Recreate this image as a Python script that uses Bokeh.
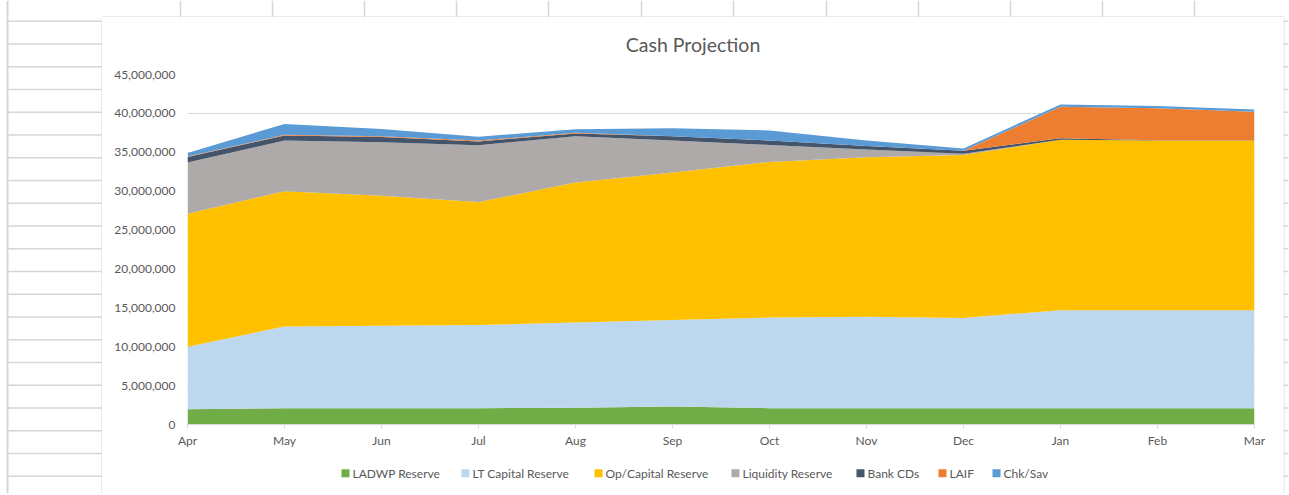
from bokeh.plotting import figure
from bokeh.models import (Range1d, FixedTicker, NumeralTickFormatter, ColumnDataSource)
from bokeh.layouts import row, column
from bokeh.embed import file_html
from bokeh.resources import INLINE
from bokeh.core.properties import value

# ---------------- data ----------------
months = ["Apr", "May", "Jun", "Jul", "Aug", "Sep", "Oct", "Nov", "Dec", "Jan", "Feb", "Mar"]
ladwp_reserve      = [1_950_000, 2_100_000, 2_100_000, 2_100_000, 2_150_000, 2_300_000,
                      2_100_000, 2_100_000, 2_100_000, 2_100_000, 2_100_000, 2_100_000]
lt_capital_reserve = [8_050_000, 10_500_000, 10_600_000, 10_700_000, 10_950_000, 11_150_000,
                      11_650_000, 11_750_000, 11_600_000, 12_600_000, 12_600_000, 12_600_000]
op_capital_reserve = [17_100_000, 17_400_000, 16_700_000, 15_800_000, 18_000_000, 18_950_000,
                      20_000_000, 20_500_000, 20_950_000, 21_900_000, 21_800_000, 21_800_000]
liquidity_reserve  = [6_600_000, 6_500_000, 6_900_000, 7_300_000, 5_950_000, 4_100_000,
                      2_200_000, 1_000_000, 150_000, 0, 0, 0]
bank_cds           = [700_000, 650_000, 650_000, 500_000, 350_000, 550_000,
                      550_000, 450_000, 400_000, 200_000, 50_000, 50_000]
laif               = [50_000, 100_000, 100_000, 100_000, 100_000, 0,
                      0, 0, 0, 4_050_000, 4_100_000, 3_650_000]
chk_sav            = [450_000, 1_400_000, 950_000, 500_000, 450_000, 1_050_000,
                      1_300_000, 700_000, 300_000, 300_000, 300_000, 300_000]

series_labels = ["LADWP Reserve", "LT Capital Reserve", "Op/Capital Reserve",
                 "Liquidity Reserve", "Bank CDs", "LAIF", "Chk/Sav"]
series_keys = ["ladwp", "ltcap", "opcap", "liq", "cds", "laif", "chk"]
series_values = [ladwp_reserve, lt_capital_reserve, op_capital_reserve,
                 liquidity_reserve, bank_cds, laif, chk_sav]
colors = ["#70ad47", "#bdd7ee", "#ffc000", "#aeaaaa", "#44546a", "#ed7d31", "#5b9bd5"]
y_ticks = list(range(0, 45_000_001, 5_000_000))
chart_title = "Cash Projection"

FONT = "Lato"
TXT = "#595959"
GRID = "#d9d9d9"
SHEET = "#d6d6d6"

# page geometry (pixels)
TOP_H = 17           # spreadsheet strip above the chart box
LEFT_W = 102         # spreadsheet strip left of the chart box
RIGHT_W = 5          # spreadsheet strip right of the chart box
BOX_W = 1181         # chart box width
BORDER_L, BORDER_R = 85, 29
TITLE_H, PLOT_H, LEG_H = 47, 390, 39
FRAME_L = LEFT_W + BORDER_L
FRAME_R = LEFT_W + BOX_W - BORDER_R
BODY_H = TITLE_H + PLOT_H + LEG_H


def plain(fig):
    fig.outline_line_color = None
    fig.background_fill_color = "white"
    fig.border_fill_color = "white"
    return fig


# ---------------- title strip ----------------
title_fig = plain(figure(width=BOX_W, height=TITLE_H, output_backend="svg", toolbar_location=None,
                         x_range=Range1d(FRAME_L, FRAME_R), y_range=Range1d(TOP_H + TITLE_H, TOP_H),
                         x_axis_type=None, y_axis_type=None, min_border_left=BORDER_L,
                         min_border_right=BORDER_R, min_border_top=0, min_border_bottom=0))
title_fig.text(x=[LEFT_W + BOX_W / 2], y=[44], text=[chart_title], text_align="center",
               text_baseline="middle", text_font=value(FONT), text_font_size="19.5px",
               text_color=TXT)

# ---------------- chart ----------------
p = plain(figure(width=BOX_W, height=PLOT_H, output_backend="svg", toolbar_location=None,
                 x_range=Range1d(0, len(months) - 1), y_range=Range1d(0, 45_000_000),
                 min_border_left=BORDER_L, min_border_right=BORDER_R,
                 min_border_top=10, min_border_bottom=30))

data = {"x": list(range(len(months)))}
for k, v in zip(series_keys, series_values):
    data[k] = v
src = ColumnDataSource(data)
p.varea_stack(stackers=series_keys, x="x", color=colors, source=src)

p.xaxis.ticker = FixedTicker(ticks=list(range(len(months))))
p.xaxis.major_label_overrides = {i: m for i, m in enumerate(months)}
p.xaxis.axis_line_color = GRID
p.xaxis.major_tick_line_color = GRID
p.xaxis.major_tick_out = 4
p.xaxis.major_tick_in = 0
p.xaxis.minor_tick_line_color = None
p.xaxis.major_label_standoff = 4
p.xaxis.major_label_text_font = FONT
p.xaxis.major_label_text_font_size = "12px"
p.xaxis.major_label_text_color = TXT

p.yaxis.ticker = FixedTicker(ticks=y_ticks)
p.yaxis.formatter = NumeralTickFormatter(format="0,0")
p.yaxis.axis_line_color = None
p.yaxis.major_tick_line_color = None
p.yaxis.major_tick_out = 0
p.yaxis.major_tick_in = 0
p.yaxis.minor_tick_line_color = None
p.yaxis.major_label_standoff = 12
p.yaxis.major_label_text_font = FONT
p.yaxis.major_label_text_font_size = "12px"
p.yaxis.major_label_text_color = TXT

p.xgrid.grid_line_color = None
p.ygrid.grid_line_color = GRID
p.ygrid.ticker = FixedTicker(ticks=y_ticks)

# ---------------- legend strip ----------------
LEG_TOP = TOP_H + TITLE_H + PLOT_H
leg = plain(figure(width=BOX_W, height=LEG_H, output_backend="svg", toolbar_location=None,
                   x_range=Range1d(FRAME_L, FRAME_R), y_range=Range1d(LEG_TOP + LEG_H, LEG_TOP),
                   x_axis_type=None, y_axis_type=None, min_border_left=BORDER_L,
                   min_border_right=BORDER_R, min_border_top=0, min_border_bottom=0))
swatch_x = [341, 461, 594, 731, 856, 938, 992]     # legend layout positions
LEG_Y = 472.7
leg.quad(left=swatch_x, right=[x + 8 for x in swatch_x], top=[LEG_Y - 4] * 7,
         bottom=[LEG_Y + 4] * 7, fill_color=colors, line_color=None)
leg.text(x=[x + 11 for x in swatch_x], y=[LEG_Y] * 7, text=series_labels,
         text_align="left", text_baseline="middle", text_font=value(FONT),
         text_font_size="12px", text_color=TXT)

# ---------------- spreadsheet backdrop ----------------
row_y = [20.7 + 22.75 * i for i in range(22)]

left = plain(figure(width=LEFT_W, height=BODY_H, output_backend="svg",
                    toolbar_location=None, x_range=Range1d(0, LEFT_W),
                    y_range=Range1d(TOP_H + BODY_H, TOP_H),
                    x_axis_type=None, y_axis_type=None, min_border=0))
left.segment(x0=[7] * len(row_y), y0=row_y, x1=[LEFT_W] * len(row_y), y1=row_y,
             line_color=SHEET, line_width=1.5)
left.segment(x0=[7], y0=[0], x1=[7], y1=[500], line_color=SHEET, line_width=2)
left.segment(x0=[LEFT_W - 0.5], y0=[TOP_H], x1=[LEFT_W - 0.5], y1=[500], line_color=GRID, line_width=1)

right = plain(figure(width=RIGHT_W, height=BODY_H, output_backend="svg",
                     toolbar_location=None, x_range=Range1d(0, RIGHT_W),
                     y_range=Range1d(TOP_H + BODY_H, TOP_H),
                     x_axis_type=None, y_axis_type=None, min_border=0))
right.segment(x0=[0] * len(row_y), y0=row_y, x1=[RIGHT_W] * len(row_y), y1=row_y,
              line_color=SHEET, line_width=1.5)
right.segment(x0=[0.5], y0=[TOP_H], x1=[0.5], y1=[500], line_color=GRID, line_width=1)

top = plain(figure(width=LEFT_W + BOX_W + RIGHT_W, height=TOP_H, output_backend="svg",
                   toolbar_location=None, x_range=Range1d(0, LEFT_W + BOX_W + RIGHT_W),
                   y_range=Range1d(TOP_H, 0), x_axis_type=None, y_axis_type=None, min_border=0))
col_x = [180, 272, 364, 456, 548, 641, 733, 826, 918, 1010, 1102, 1194]
top.segment(x0=col_x, y0=[0] * len(col_x), x1=col_x, y1=[TOP_H] * len(col_x),
            line_color=SHEET, line_width=1.5)
top.segment(x0=[7], y0=[0], x1=[7], y1=[TOP_H], line_color=SHEET, line_width=2)
top.segment(x0=[LEFT_W], y0=[TOP_H - 0.5], x1=[LEFT_W + BOX_W], y1=[TOP_H - 0.5],
            line_color=GRID, line_width=1)

layout = column(top, row(left, column(title_fig, p, leg), right))
open("out.html", "w").write(file_html(layout, INLINE))
